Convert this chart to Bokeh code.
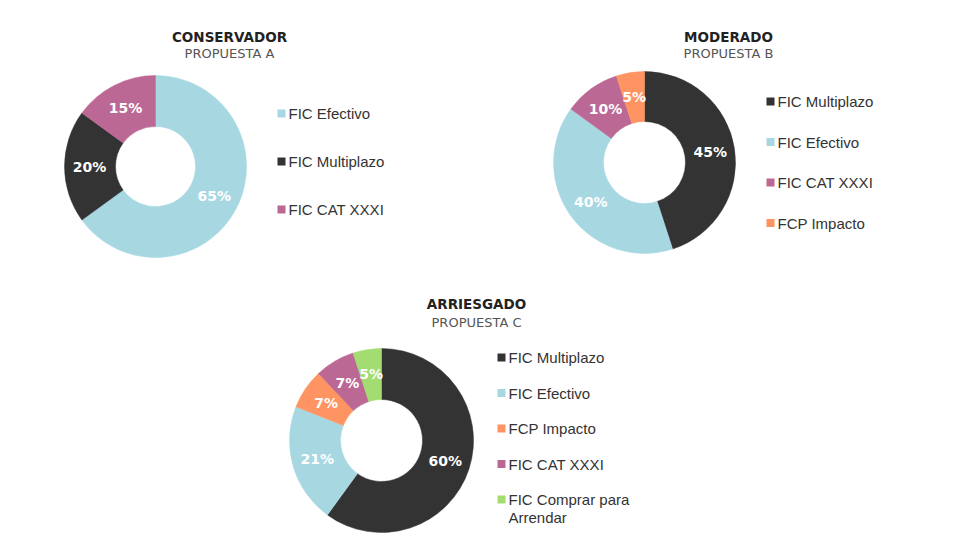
import numpy as np
from bokeh.plotting import figure
from bokeh.models import Range1d, ColumnDataSource
from bokeh.core.properties import value
from bokeh.embed import file_html
from bokeh.resources import INLINE

# ---------------- data ----------------
titles = ["CONSERVADOR", "MODERADO", "ARRIESGADO"]
subtitles = ["PROPUESTA A", "PROPUESTA B", "PROPUESTA C"]

cons_labels = ["FIC Efectivo", "FIC Multiplazo", "FIC CAT XXXI"]
cons_values = [65, 20, 15]

mod_labels = ["FIC Multiplazo", "FIC Efectivo", "FIC CAT XXXI", "FCP Impacto"]
mod_values = [45, 40, 10, 5]

arr_labels = ["FIC Multiplazo", "FIC Efectivo", "FCP Impacto", "FIC CAT XXXI",
              "FIC Comprar para\nArrendar"]
arr_values = [60, 21, 7, 7, 5]

COLORS = {
    "FIC Efectivo": "#A7D8E2",
    "FIC Multiplazo": "#333333",
    "FIC CAT XXXI": "#BB6894",
    "FCP Impacto": "#FE9461",
    "FIC Comprar para\nArrendar": "#A3DC70",
}

# ---------------- layout (screen px of the window) ----------------
W, H = 955, 535
layouts = [
    dict(cx=155, cy=166, ro=91, ri=40, tx=229, ty=36, sy=53, lx=281, ly=113, ls=48),
    dict(cx=644, cy=162, ro=91, ri=41, tx=728, ty=36, sy=53, lx=770, ly=101, ls=40.5),
    dict(cx=381, cy=440, ro=92, ri=41, tx=476, ty=303, sy=322, lx=501, ly=357, ls=35.5),
]

def Y(py):
    return H - py

p = figure(width=W, height=H, output_backend="svg", toolbar_location=None,
           x_range=Range1d(0, W), y_range=Range1d(0, H),
           min_border=0, outline_line_color=None, background_fill_color="white",
           border_fill_color="white")
p.axis.visible = False
p.grid.visible = False

TITLE_FONT = "DejaVu Sans"
LEG_FONT = "Liberation Sans"

for (labels, vals), L, t, s in zip(
        [(cons_labels, cons_values), (mod_labels, mod_values), (arr_labels, arr_values)],
        layouts, titles, subtitles):
    vals = np.array(vals, dtype=float)
    frac = vals / vals.sum()
    cum = np.concatenate([[0], np.cumsum(frac)])
    start = np.pi / 2 - cum[:-1] * 2 * np.pi
    end = np.pi / 2 - cum[1:] * 2 * np.pi
    mid = (start + end) / 2
    cx, cy = L["cx"], Y(L["cy"])
    src = ColumnDataSource(dict(
        x=[cx] * len(vals), y=[cy] * len(vals),
        start=start, end=end, color=[COLORS[l] for l in labels]))
    p.annular_wedge(x="x", y="y", inner_radius=L["ri"], outer_radius=L["ro"],
                    start_angle="start", end_angle="end", direction="clock",
                    fill_color="color", line_color="color", line_width=0.5, source=src)
    rl = (L["ri"] + L["ro"]) / 2 + 0.5
    p.text(x=cx + rl * np.cos(mid), y=cy + rl * np.sin(mid),
           text=[f"{int(v)}%" for v in vals],
           text_color="white", text_font=value(TITLE_FONT), text_font_style="bold",
           text_font_size="14px", text_align="center", text_baseline="middle")
    # titles
    p.text(x=[L["tx"]], y=[Y(L["ty"])], text=[t], text_color="#222222",
           text_font=value(TITLE_FONT), text_font_style="bold", text_font_size="13.5px",
           text_align="center", text_baseline="middle")
    p.text(x=[L["tx"]], y=[Y(L["sy"])], text=[s], text_color="#555555",
           text_font=value(TITLE_FONT), text_font_size="13px",
           text_align="center", text_baseline="middle")
    # legend
    for i, lab in enumerate(labels):
        yy = L["ly"] + i * L["ls"]
        p.scatter(x=[L["lx"]], y=[Y(yy)], marker="square", size=8,
                  fill_color=COLORS[lab], line_color=None)
        for k, line in enumerate(lab.split("\n")):
            p.text(x=[L["lx"] + 7], y=[Y(yy + 18 * k)], text=[line],
                   text_color="#333333", text_font=value(LEG_FONT),
                   text_font_size="15px", text_align="left", text_baseline="middle")

open("out.html", "w").write(file_html(p, INLINE))
